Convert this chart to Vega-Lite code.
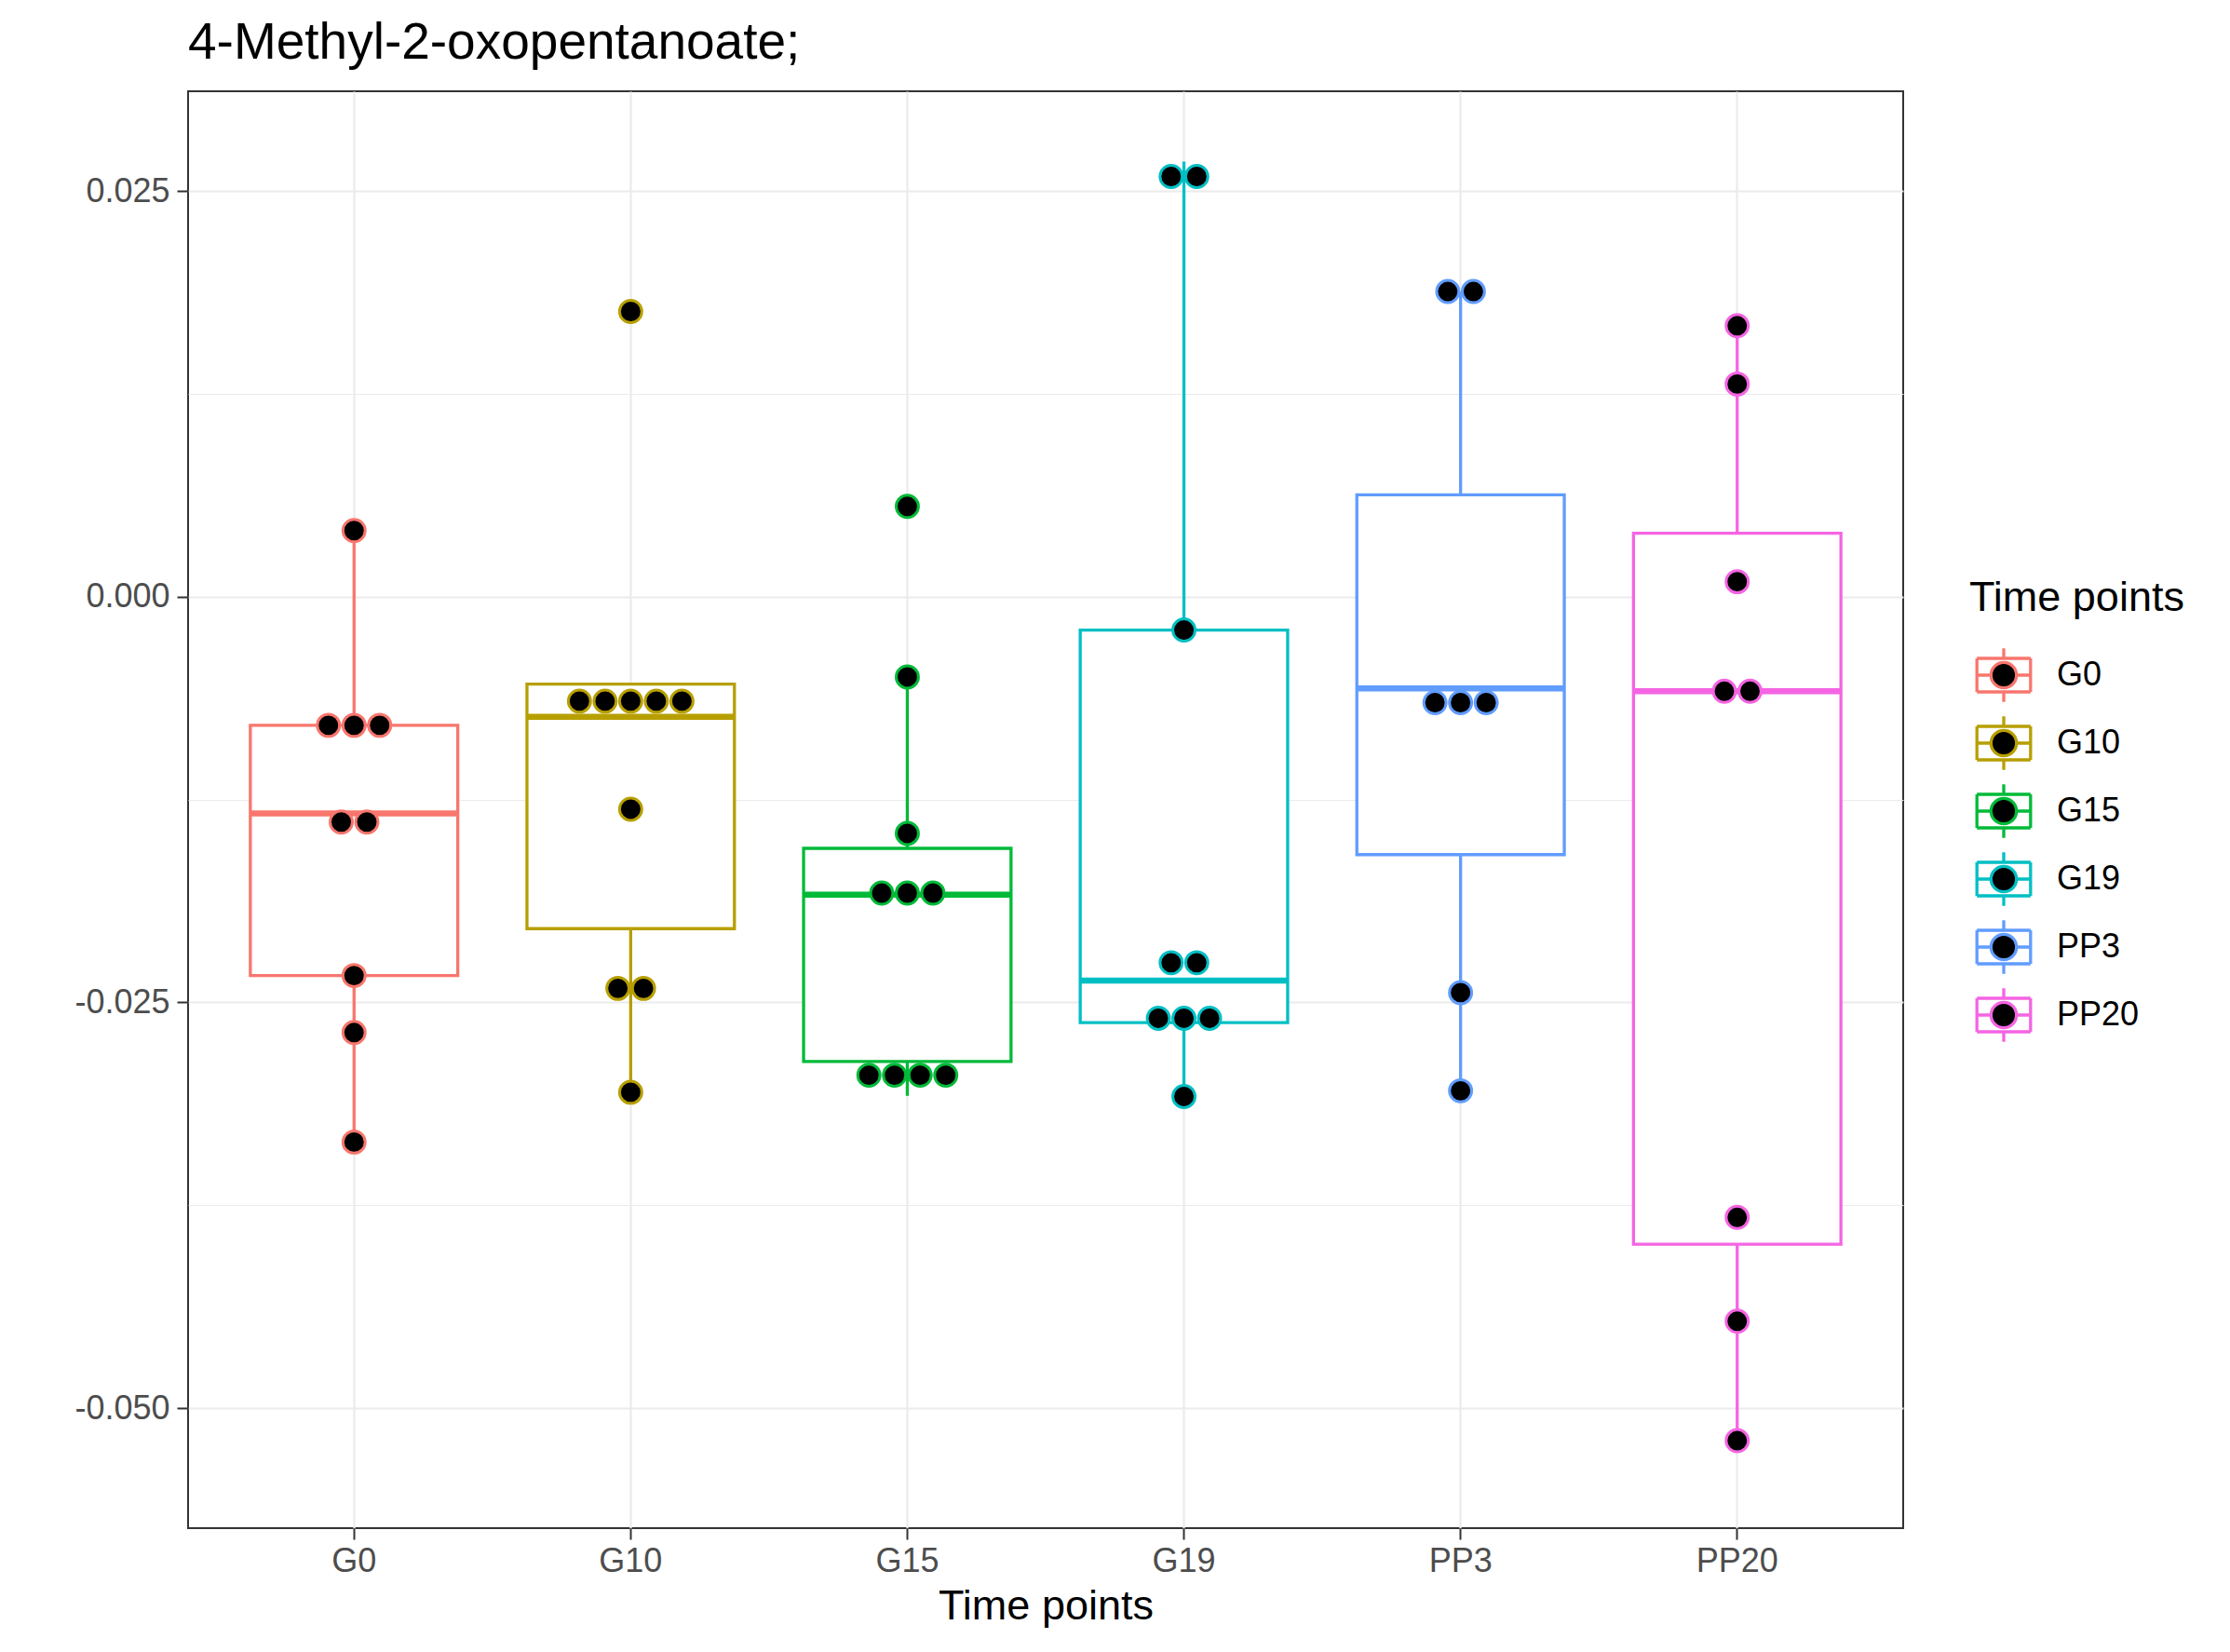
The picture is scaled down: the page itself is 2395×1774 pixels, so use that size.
{
  "$schema": "https://vega.github.io/schema/vega-lite/v6.json",
  "width": 1842,
  "height": 1543,
  "autosize": {"type": "none"},
  "padding": {"left": 202, "top": 98, "right": 351, "bottom": 133},
  "background": "white",
  "title": {"text": "4-Methyl-2-oxopentanoate;", "anchor": "start", "frame": "group", "fontSize": 55, "font": "Liberation Sans", "fontWeight": "normal", "color": "black", "baseline": "alphabetic", "offset": -20},
  "datasets": {
    "summary": [
      {"g": "G0", "lower": -0.03361, "q1": -0.02335, "median": -0.01336, "q3": -0.00793, "upper": 0.00407},
      {"g": "G10", "lower": -0.03054, "q1": -0.02046, "median": -0.0074, "q3": -0.00539, "upper": -0.00539},
      {"g": "G15", "lower": -0.03076, "q1": -0.02865, "median": -0.01836, "q3": -0.01551, "upper": -0.00495},
      {"g": "G19", "lower": -0.0308, "q1": -0.02625, "median": -0.02366, "q3": -0.00206, "upper": 0.02681},
      {"g": "PP3", "lower": -0.03045, "q1": -0.0159, "median": -0.00565, "q3": 0.00627, "upper": 0.0188},
      {"g": "PP20", "lower": -0.05201, "q1": -0.03991, "median": -0.00583, "q3": 0.0039, "upper": 0.01669}
    ],
    "points": [
      {"g": "G0", "v": 0.00407, "off": 0},
      {"g": "G0", "v": -0.00793, "off": -1},
      {"g": "G0", "v": -0.00793, "off": 0},
      {"g": "G0", "v": -0.00793, "off": 1},
      {"g": "G0", "v": -0.01389, "off": -0.5},
      {"g": "G0", "v": -0.01389, "off": 0.5},
      {"g": "G0", "v": -0.02335, "off": 0},
      {"g": "G0", "v": -0.02686, "off": 0},
      {"g": "G0", "v": -0.03361, "off": 0},
      {"g": "G10", "v": 0.01757, "off": 0},
      {"g": "G10", "v": -0.00644, "off": -2},
      {"g": "G10", "v": -0.00644, "off": -1},
      {"g": "G10", "v": -0.00644, "off": 0},
      {"g": "G10", "v": -0.00644, "off": 1},
      {"g": "G10", "v": -0.00644, "off": 2},
      {"g": "G10", "v": -0.0131, "off": 0},
      {"g": "G10", "v": -0.02414, "off": -0.5},
      {"g": "G10", "v": -0.02414, "off": 0.5},
      {"g": "G10", "v": -0.03054, "off": 0},
      {"g": "G15", "v": 0.00556, "off": 0},
      {"g": "G15", "v": -0.00495, "off": 0},
      {"g": "G15", "v": -0.01459, "off": 0},
      {"g": "G15", "v": -0.01827, "off": -1},
      {"g": "G15", "v": -0.01827, "off": 0},
      {"g": "G15", "v": -0.01827, "off": 1},
      {"g": "G15", "v": -0.02949, "off": -1.5},
      {"g": "G15", "v": -0.02949, "off": -0.5},
      {"g": "G15", "v": -0.02949, "off": 0.5},
      {"g": "G15", "v": -0.02949, "off": 1.5},
      {"g": "G19", "v": 0.02589, "off": -0.5},
      {"g": "G19", "v": 0.02589, "off": 0.5},
      {"g": "G19", "v": -0.00206, "off": 0},
      {"g": "G19", "v": -0.02256, "off": -0.5},
      {"g": "G19", "v": -0.02256, "off": 0.5},
      {"g": "G19", "v": -0.02598, "off": -1},
      {"g": "G19", "v": -0.02598, "off": 0},
      {"g": "G19", "v": -0.02598, "off": 1},
      {"g": "G19", "v": -0.0308, "off": 0},
      {"g": "PP3", "v": 0.0188, "off": -0.5},
      {"g": "PP3", "v": 0.0188, "off": 0.5},
      {"g": "PP3", "v": -0.00653, "off": -1},
      {"g": "PP3", "v": -0.00653, "off": 0},
      {"g": "PP3", "v": -0.00653, "off": 1},
      {"g": "PP3", "v": -0.0244, "off": 0},
      {"g": "PP3", "v": -0.03045, "off": 0},
      {"g": "PP20", "v": 0.01669, "off": 0},
      {"g": "PP20", "v": 0.0131, "off": 0},
      {"g": "PP20", "v": 0.00092, "off": 0},
      {"g": "PP20", "v": -0.00583, "off": -0.5},
      {"g": "PP20", "v": -0.00583, "off": 0.5},
      {"g": "PP20", "v": -0.03825, "off": 0},
      {"g": "PP20", "v": -0.04465, "off": 0},
      {"g": "PP20", "v": -0.05201, "off": 0}
    ]
  },
  "encoding": {
    "x": {
      "field": "g", "type": "nominal", "title": "Time points",
      "scale": {"domain": ["G0", "G10", "G15", "G19", "PP3", "PP20"], "paddingInner": 0, "paddingOuter": 0.1},
      "axis": {"labelAngle": 0, "grid": true, "gridColor": "#EBEBEB", "gridWidth": 2.2, "domain": false, "tickColor": "#333333", "tickWidth": 2, "tickSize": 12, "labelPadding": 6, "labelFontSize": 36, "labelColor": "#4D4D4D", "labelFont": "Liberation Sans", "titleFont": "Liberation Sans", "titleFontSize": 45, "titleFontWeight": "normal", "titleColor": "black", "titlePadding": 8}
    }
  },
  "layer": [
    {
      "data": {"name": "summary"},
      "mark": {"type": "rule", "strokeWidth": 3.3},
      "encoding": {
        "y": {
          "field": "lower", "type": "quantitative",
          "scale": {"domain": [-0.0574, 0.03114], "nice": false, "zero": false},
          "axis": {"values": [-0.05, -0.025, 0, 0.025], "title": null, "grid": true, "gridColor": "#EBEBEB", "gridWidth": 2.2, "domain": false, "tickColor": "#333333", "tickWidth": 2, "tickSize": 12, "labelPadding": 8, "labelFontSize": 36, "labelColor": "#4D4D4D", "labelFont": "Liberation Sans", "labelExpr": "replace(format(datum.value, '.3f'), '\u2212', '-')"}
        },
        "y2": {"field": "upper"},
        "stroke": {
          "field": "g", "type": "nominal", "title": "Time points",
          "scale": {"domain": ["G0", "G10", "G15", "G19", "PP3", "PP20"], "range": ["#F8766D", "#B79F00", "#00BA38", "#00BFC4", "#619CFF", "#F564E3"]},
          "legend": {
            "orient": "none", "legendX": 1913, "legendY": 522,
            "symbolType": "M-0.823,-0.514H0.823M0.823,-0.514V0.514M0.823,0.514H-0.823M-0.823,0.514V-0.514M0,-0.823V-0.514M0,0.514V0.823M-0.823,0H-0.391M0.391,0H0.823M0.391,0A0.391,0.391,0,1,1,-0.391,0A0.391,0.391,0,1,1,0.391,0",
            "symbolSize": 4900, "symbolStrokeWidth": 3.3, "rowPadding": 0, "labelOffset": 20,
            "labelFontSize": 36, "labelFont": "Liberation Sans", "labelColor": "black",
            "titleFontSize": 45, "titleFont": "Liberation Sans", "titleFontWeight": "normal", "titleColor": "black", "titlePadding": 23, "titleLimit": 600,
            "encode": {"symbols": {"update": {"fill": {"value": "black"}, "strokeWidth": {"value": 3.3}, "opacity": {"value": 1}}}}
          }
        }
      }
    },
    {
      "data": {"name": "summary"},
      "mark": {"type": "bar", "fill": "white", "strokeWidth": 3.3, "width": 222.8},
      "encoding": {
        "y": {
          "field": "q1", "type": "quantitative",
          "axis": {"orient": "right", "values": [-0.0375, -0.0125, 0.0125], "grid": true, "gridColor": "#EBEBEB", "gridWidth": 1.1, "labels": false, "ticks": false, "domain": false, "title": null}
        },
        "y2": {"field": "q3"},
        "stroke": {"field": "g", "type": "nominal"}
      }
    },
    {
      "data": {"name": "summary"},
      "mark": {"type": "bar", "fill": "transparent", "strokeWidth": 6.5, "width": 222.8},
      "encoding": {
        "y": {"field": "median", "type": "quantitative", "axis": null},
        "y2": {"field": "median"},
        "stroke": {"field": "g", "type": "nominal"}
      }
    },
    {
      "data": {"name": "points"},
      "mark": {"type": "point", "shape": "circle", "filled": true, "fill": "black", "opacity": 1, "size": 572, "strokeWidth": 3},
      "encoding": {
        "y": {"field": "v", "type": "quantitative", "axis": null},
        "xOffset": {"field": "off", "type": "quantitative", "scale": {"domain": [-5.4, 5.4]}},
        "stroke": {"field": "g", "type": "nominal"}
      }
    }
  ],
  "resolve": {"axis": {"y": "independent"}},
  "config": {
    "view": {"stroke": "#333333", "strokeWidth": 2},
    "font": "Liberation Sans"
  }
}
